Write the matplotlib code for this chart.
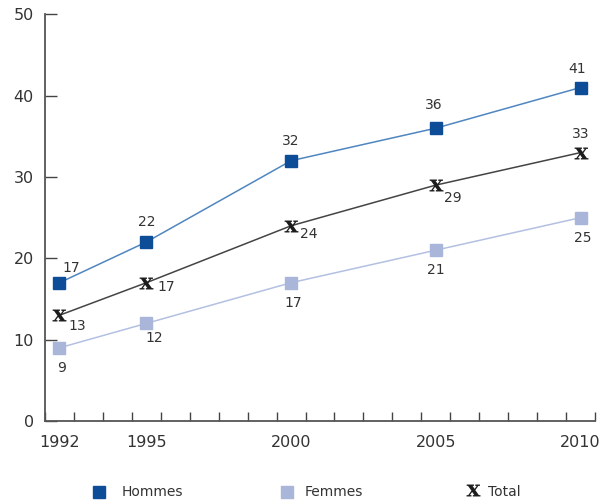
import matplotlib
matplotlib.use('Agg')
import matplotlib.pyplot as plt
from matplotlib.lines import Line2D

years = [1992, 1995, 2000, 2005, 2010]
hommes = [17, 22, 32, 36, 41]
femmes = [9, 12, 17, 21, 25]
total = [13, 17, 24, 29, 33]

# label offsets in pixels (dx, dy) for each point
hommes_off = [(12, 15), (0, 20), (0, 20), (-2, 23), (-3, 19)]
total_off = [(18, -11), (20, -4), (18, -8), (17, -13), (0, 19)]
femmes_off = [(2, -20), (8, -15), (2, -20), (0, -20), (2, -20)]

plt.rcParams['font.family'] = ['DejaVu Sans']
plt.rcParams['mathtext.fontset'] = 'dejavuserif'
txt = '#333333'
x_mark = r'$\mathbf{x}$'

fig = plt.figure(figsize=(6.06, 5.04), dpi=100)
ax = fig.add_axes([45 / 606, 1 - 421 / 504, 550 / 606, (421 - 14.3) / 504])

ax.plot(years, hommes, color='#4F86C0', lw=1.1, marker='s', ms=8,
        mfc='#0D4C97', mec='#0D4C97', zorder=3)
ax.plot(years, femmes, color='#B3C0E2', lw=1.1, marker='s', ms=8,
        mfc='#A9B5D9', mec='#A9B5D9', zorder=3)
ax.plot(years, total, color='#444444', lw=1.1, marker=x_mark, ms=10, mew=0,
        mfc='#1c1c1c', zorder=4)

for series, offs in [(hommes, hommes_off), (total, total_off), (femmes, femmes_off)]:
    for x, v, (dx, dy) in zip(years, series, offs):
        ax.annotate(str(v), (x, v), xytext=(dx, dy), textcoords='offset pixels',
                    ha='center', va='center', fontsize=10, color=txt)

ax.set_xlim(1991.5, 2010.5)
ax.set_ylim(0, 50)
ax.set_yticks(range(0, 51, 10))
ax.set_xticks(years)
ax.set_xticks([1991.5 + k for k in range(20)], minor=True)
ax.tick_params(axis='x', which='major', length=0, pad=10, labelsize=11.5, labelcolor=txt)
ax.tick_params(axis='x', which='minor', direction='in', length=6.5, width=1, color='#444444')
ax.tick_params(axis='y', direction='in', length=8.5, width=1, color='#444444',
               pad=8, labelsize=11.5, labelcolor=txt)

for side in ['top', 'right']:
    ax.spines[side].set_visible(False)
for side in ['left', 'bottom']:
    ax.spines[side].set_color('#555555')
    ax.spines[side].set_linewidth(1.3)

# legend row under the axis
ly = 1 - 492 / 504
fig.add_artist(Line2D([99 / 606], [ly], marker='s', ms=8, color='#0D4C97', ls='none'))
fig.text(122 / 606, ly, 'Hommes', fontsize=10, color=txt, va='center')
fig.add_artist(Line2D([287 / 606], [ly], marker='s', ms=8, color='#A9B5D9', ls='none'))
fig.text(305 / 606, ly, 'Femmes', fontsize=10, color=txt, va='center')
fig.add_artist(Line2D([473 / 606], [ly + 0.004], marker=x_mark, ms=10, mew=0, color='#1c1c1c', ls='none'))
fig.text(488 / 606, ly, 'Total', fontsize=10, color=txt, va='center')

fig.savefig('out.png', dpi=100)
